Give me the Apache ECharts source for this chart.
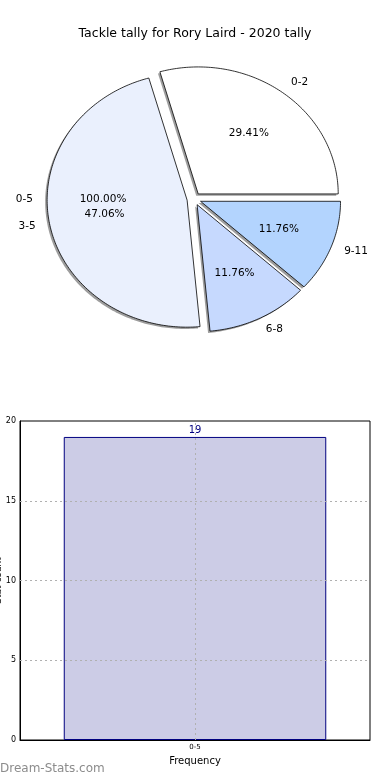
<!DOCTYPE html>
<html><head><meta charset="utf-8">
<script src="https://cdn.jsdelivr.net/npm/echarts@6/dist/echarts.min.js"></script>
<style>html,body{margin:0;padding:0;background:#fff}#c{width:390px;height:780px}</style>
</head><body><div id="c"></div>
<script>
const titleText = 'Tackle tally for Rory Laird - 2020 tally';
const pieLabels = ['0-2', '3-5', '6-8', '9-11'];
const pieValues = [5, 8, 2, 2];
const pieColors = ['#ffffff', '#eaf0fd', '#c6d9fe', '#b3d4fe'];
const barCategories = ['0-5'];
const barValues = [19];
const yTicks = [0, 5, 10, 15, 20];
const xName = 'Frequency';
const yName = 'Stat count';

const FONT = '"DejaVu Sans", sans-serif';
const EXPLODE = 0.05;
function wedges(values) {
  const total = values.reduce((a, b) => a + b, 0);
  let acc = 0;
  return values.map(v => {
    const s = acc / total * 360; acc += v; const e = acc / total * 360;
    return { s: s, e: e, m: (s + e) / 2, pct: v / total * 100 };
  });
}
function makeRender(values, colors, labels, mode) {
  const w = wedges(values);
  const rad = Math.PI / 180;
  return function (params, api) {
    const i = params.dataIndex; const d = w[i];
    const cx = EXPLODE * Math.cos(d.m * rad), cy = EXPLODE * Math.sin(d.m * rad);
    if (mode === 'shadow' || mode === 'wedge') {
      const off = mode === 'shadow' ? [-0.014, -0.014] : [0, 0];
      const pts = [];
      const full = d.e - d.s >= 359.999;
      if (!full) pts.push(api.coord([cx + off[0], cy + off[1]]));
      const n = Math.max(2, Math.ceil(d.e - d.s));
      for (let k = 0; k <= n; k++) {
        const a = (d.s + (d.e - d.s) * k / n) * rad;
        pts.push(api.coord([cx + off[0] + Math.cos(a), cy + off[1] + Math.sin(a)]));
      }
      return {
        type: 'polygon', shape: { points: pts },
        style: mode === 'shadow' ? { fill: 'rgba(60,60,60,0.5)' } : { fill: colors[i], stroke: '#000', lineWidth: 0.8 }
      };
    }
    const m = d.m * rad;
    const lx = cx + 1.1 * Math.cos(m), ly = cy + 1.1 * Math.sin(m);
    const px = cx + 0.6 * Math.cos(m), py = cy + 0.6 * Math.sin(m);
    const lp = api.coord([lx, ly]), pp = api.coord([px, py]);
    return {
      type: 'group', children: [
        { type: 'text', x: lp[0], y: lp[1], style: { text: labels[i], align: lx > 0 ? 'left' : 'right', verticalAlign: 'middle', font: '10.5px ' + FONT, fill: '#000' } },
        { type: 'text', x: pp[0], y: pp[1], style: { text: d.pct.toFixed(2) + '%', align: 'center', verticalAlign: 'middle', font: '10.5px ' + FONT, fill: '#000' } }
      ]
    };
  };
}

const chart = echarts.init(document.getElementById('c'), null, { renderer: 'canvas' });
const gridLineStyle = { color: '#b0b0b0', type: [2, 3], width: 1 };
chart.setOption({
  animation: false,
  backgroundColor: '#fff',
  textStyle: { fontFamily: FONT },
  title: { text: titleText, left: 'center', top: 22, textStyle: { fontFamily: FONT, fontSize: 12.5, fontWeight: 'normal', color: '#000' } },
  graphic: [{ type: 'text', left: 0, top: 763, style: { text: 'Dream-Stats.com', font: '12px ' + FONT, fill: '#8c8c8c' } }],
  grid: [
    { left: 54, top: 72, width: 280, height: 254, show: false, containLabel: false, outerBoundsMode: 'none' },
    { left: 20, right: 20, top: 421, bottom: 40, show: true, borderColor: '#000', borderWidth: 1, backgroundColor: 'transparent', containLabel: false, outerBoundsMode: 'none' }
  ],
  xAxis: [
    { gridIndex: 0, type: 'value', min: -1, max: 1, show: false },
    {
      gridIndex: 1, type: 'category', data: barCategories,
      axisLine: { lineStyle: { color: '#000' } }, axisTick: { show: false },
      axisLabel: { fontSize: 7, color: '#000', margin: 4, fontFamily: FONT },
      name: xName, nameLocation: 'middle', nameGap: 16, nameTextStyle: { fontSize: 10, color: '#000', fontFamily: FONT },
      splitLine: { show: false }
    }
  ],
  yAxis: [
    { gridIndex: 0, type: 'value', min: -1, max: 1, show: false },
    {
      gridIndex: 1, type: 'value', min: yTicks[0], max: yTicks[yTicks.length - 1], interval: yTicks[1] - yTicks[0],
      axisLine: { show: true, lineStyle: { color: '#000' } }, axisTick: { show: false },
      axisLabel: { fontSize: 8, color: '#000', margin: 4, fontFamily: FONT },
      splitLine: { show: false },
      name: yName, nameLocation: 'middle', nameGap: 17, nameMoveOverlap: false, nameTextStyle: { fontSize: 9, color: '#000', fontFamily: FONT }
    }
  ],
  series: [
    { type: 'custom', xAxisIndex: 0, yAxisIndex: 0, clip: false, data: pieValues, renderItem: makeRender(pieValues, pieColors, pieLabels, 'shadow'), silent: true },
    { type: 'custom', xAxisIndex: 0, yAxisIndex: 0, clip: false, data: pieValues, renderItem: makeRender(pieValues, pieColors, pieLabels, 'wedge'), silent: true },
    { type: 'custom', xAxisIndex: 0, yAxisIndex: 0, clip: false, data: barValues, renderItem: makeRender(barValues, pieColors, barCategories, 'label'), silent: true },
    { type: 'custom', xAxisIndex: 0, yAxisIndex: 0, clip: false, data: pieValues, renderItem: makeRender(pieValues, pieColors, pieLabels, 'label'), silent: true },
    {
      type: 'bar', xAxisIndex: 1, yAxisIndex: 1, data: barValues, barWidth: '75%',
      itemStyle: { color: '#ccccE6', borderColor: '#000080', borderWidth: 1 },
      label: { show: true, position: 'top', distance: 2, color: '#000080', fontSize: 10, fontFamily: FONT },
      markLine: {
        silent: true, symbol: 'none', label: { show: false }, lineStyle: gridLineStyle,
        data: yTicks.slice(1, -1).map(v => ({ yAxis: v })).concat(barCategories.map(c => ({ xAxis: c })))
      }
    }
  ]
});
</script></body></html>
